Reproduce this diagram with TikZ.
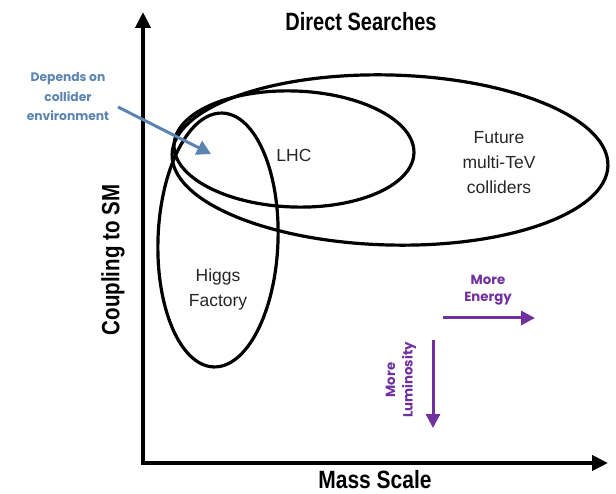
\documentclass[tikz,border=0pt]{standalone}
\usepackage{fontspec}
\setmainfont{Liberation Sans}
\newfontfamily\popfont{Poppins}
\usetikzlibrary{arrows.meta}
\definecolor{blueann}{HTML}{5B84B1}
\definecolor{purpann}{HTML}{7030A0}
\begin{document}
\begin{tikzpicture}[x=1pt,y=-1pt,
  axisline/.style={line width=4pt,line join=miter,{Triangle[length=16pt,width=15pt]}-{Triangle[length=16pt,width=15pt]}},
  loop/.style={line width=3.2pt,black},
  titlelbl/.style={font=\bfseries\fontsize{25}{27}\selectfont},
  plainlbl/.style={font=\fontsize{17.5}{25}\selectfont,align=center,text=black!85},
  bluelbl/.style={text=blueann,font=\popfont\bfseries\fontsize{12.3}{19.5}\selectfont,align=center},
  purplbl/.style={text=purpann,font=\popfont\bfseries\fontsize{13.3}{17.5}\selectfont,align=center},
  bluearrow/.style={draw=blueann,line width=3pt,-{Triangle[length=14pt,width=15pt]}},
  purparrow/.style={draw=purpann,line width=3pt,-{Triangle[length=14pt,width=14pt]}},
]
\useasboundingbox (0,0) rectangle (616,494);
% axes
\coordinate (ytip) at (143,12);
\coordinate (origin) at (143,463);
\coordinate (xtip) at (608,463);
\draw[axisline] (ytip) -- (origin) -- (xtip);
% ellipses
\draw[loop,rotate around={-1.5:(390,160)}] (390,160) ellipse [x radius=218, y radius=85];
\draw[loop,rotate around={-2:(294,149)}] (294,149) ellipse [x radius=120, y radius=58];
\draw[loop,rotate around={-2:(218,240)}] (218,240) ellipse [x radius=60, y radius=127];
% titles
\node[titlelbl] (title) at (361,22) {\scalebox{0.8}[1]{Direct Searches}};
\node[titlelbl,inner sep=1pt] (xlabel) at (375,480) {\scalebox{0.84}[1]{Mass Scale}};
\node[titlelbl,rotate=90] (ylabel) at (113,260) {\scalebox{0.82}[1]{Coupling to SM}};
% region labels
\node[plainlbl] (lhc) at (294,155) {LHC};
\node[plainlbl] (future) at (499,163) {Future\\multi-TeV\\colliders};
\node[plainlbl] (higgs) at (218,289) {Higgs\\Factory};
% blue annotation
\node[bluelbl] (depends) at (68,97) {Depends on\\collider\\environment};
\coordinate (bstart) at (118,107);
\coordinate (bend) at (211,154);
\draw[bluearrow] (bstart) -- (bend);
% purple annotations
\node[purplbl] (energy) at (488,290) {More\\Energy};
\coordinate (estart) at (443,318);
\coordinate (eend) at (535,318);
\draw[purparrow] (estart) -- (eend);
\node[purplbl,rotate=90] (lumi) at (401,380) {More\\Luminosity};
\coordinate (lstart) at (433,340);
\coordinate (lend) at (433,428);
\draw[purparrow] (lstart) -- (lend);
\end{tikzpicture}
\end{document}
